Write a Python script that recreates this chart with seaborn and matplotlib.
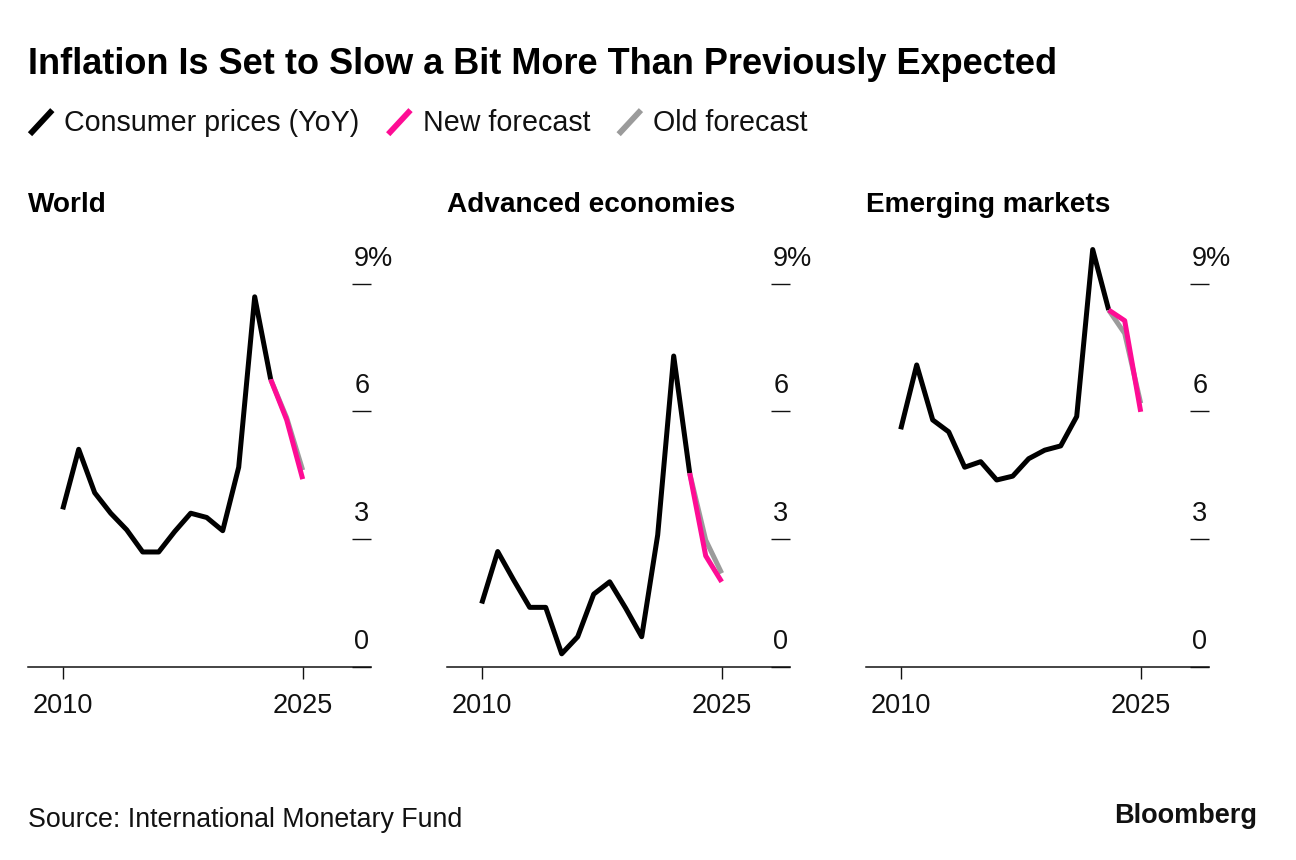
import pandas as pd
import seaborn as sns
import matplotlib
matplotlib.use("Agg")
from matplotlib import pyplot as plt
from matplotlib import transforms
from matplotlib.lines import Line2D
from matplotlib.legend_handler import HandlerBase

# values (% YoY)
actual_years = list(range(2010, 2024))
forecast_years = [2023, 2024, 2025]

world_actual = [3.70, 5.11, 4.09, 3.61, 3.22, 2.70, 2.70, 3.18, 3.61, 3.51, 3.20, 4.69, 8.69, 6.75]
world_new = [6.75, 5.80, 4.41]
world_old = [6.75, 5.85, 4.62]

adv_actual = [1.49, 2.71, 2.04, 1.40, 1.40, 0.31, 0.71, 1.71, 2.00, 1.38, 0.71, 3.10, 7.30, 4.55]
adv_new = [4.55, 2.61, 2.00]
adv_old = [4.55, 2.98, 2.20]

em_actual = [5.58, 7.09, 5.80, 5.52, 4.69, 4.82, 4.39, 4.48, 4.89, 5.09, 5.19, 5.88, 9.80, 8.38]
em_new = [8.38, 8.13, 5.99]
em_old = [8.38, 7.83, 6.19]

panel_names = ["World", "Advanced economies", "Emerging markets"]
series_names = ["Consumer prices (YoY)", "New forecast", "Old forecast"]
ytick_vals = [0, 3, 6, 9]
ytick_labels = ["0", "3", "6", "9%"]
xtick_vals = [2010, 2025]

BLACK = "#000000"
PINK = "#fe0c94"
GREY = "#9b9b9b"
palette = {"Consumer prices (YoY)": BLACK, "New forecast": PINK, "Old forecast": GREY}


def make_frame(actual, new, old):
    parts = [
        pd.DataFrame({"year": actual_years, "value": actual, "series": series_names[0]}),
        pd.DataFrame({"year": forecast_years, "value": new, "series": series_names[1]}),
        pd.DataFrame({"year": forecast_years, "value": old, "series": series_names[2]}),
    ]
    return pd.concat(parts, ignore_index=True)


frames = [
    make_frame(world_actual, world_new, world_old),
    make_frame(adv_actual, adv_new, adv_old),
    make_frame(em_actual, em_new, em_old),
]


class SlashHandler(HandlerBase):
    # legend key drawn as a short diagonal stroke
    def create_artists(self, legend, orig_handle, xdescent, ydescent,
                       width, height, fontsize, trans):
        x0, y0 = -xdescent, -ydescent
        line = Line2D([x0, x0 + width], [y0 - 0.1 * height, y0 + 1.0 * height],
                      color=orig_handle.get_color(), linewidth=4.2,
                      solid_capstyle="butt", transform=trans)
        return [line]


sns.set_theme(style="white")
plt.rcParams["font.family"] = ["Liberation Sans", "DejaVu Sans"]
plt.rcParams["lines.solid_capstyle"] = "butt"

W, H = 1296, 860
fig = plt.figure(figsize=(W / 100, H / 100), dpi=100)
fig.patch.set_facecolor("white")

lefts = [28, 447, 866]
ax_w, ax_bottom, ax_top = 343, 667, 240
px_per_unit = 42.6
tick_fs = 19.5

for i, (df, name) in enumerate(zip(frames, panel_names)):
    ax = fig.add_axes([lefts[i] / W, (H - ax_bottom) / H, ax_w / W, (ax_bottom - ax_top) / H])
    sns.lineplot(data=df, x="year", y="value", hue="series",
                 hue_order=["Old forecast", "Consumer prices (YoY)", "New forecast"],
                 palette=palette, linewidth=3.6, errorbar=None, legend=False, ax=ax)
    ax.set_xlim(2010 - 34.7 / 16, 2025 + 68.3 / 16)
    ax.set_ylim(0, (ax_bottom - ax_top) / px_per_unit)
    ax.set_xlabel("")
    ax.set_ylabel("")
    for s in ["top", "left", "right"]:
        ax.spines[s].set_visible(False)
    ax.spines["bottom"].set_color("#111111")
    ax.spines["bottom"].set_linewidth(1.1)
    ax.set_facecolor("white")

    ax.set_xticks(xtick_vals)
    ax.set_xticklabels([str(v) for v in xtick_vals])
    ax.tick_params(axis="x", direction="out", length=8.5, width=1.0, color="#111111",
                   labelsize=tick_fs, labelcolor="#111111", pad=10, bottom=True)
    ax.yaxis.tick_right()
    ax.set_yticks(ytick_vals)
    ax.tick_params(axis="y", direction="in", length=13.5, width=1.0, color="#111111",
                   labelright=False, labelleft=False)

    lab_trans = transforms.offset_copy(
        transforms.blended_transform_factory(ax.transAxes, ax.transData),
        fig=fig, x=0, y=18, units="dots")
    for v, lab in zip(ytick_vals, ytick_labels):
        ax.text(0.951, v, lab, transform=lab_trans, ha="left", va="baseline",
                fontsize=tick_fs, color="#111111")

    fig.text(lefts[i] / W, 1 - 212 / H, name, ha="left", va="baseline",
             fontsize=20.2, fontweight="bold", color="black")

fig.text(28 / W, 1 - 74 / H, "Inflation Is Set to Slow a Bit More Than Previously Expected",
         ha="left", va="baseline", fontsize=26, fontweight="bold", color="black")

handles = [Line2D([], [], color=palette[s]) for s in series_names]
fig.legend(handles, series_names, loc="upper left", bbox_to_anchor=(30 / W, 1 - 109 / H),
           ncol=3, frameon=False, fontsize=20.6, handler_map={Line2D: SlashHandler()},
           handlelength=0.78, handleheight=0.8, handletextpad=0.42, columnspacing=1.0,
           borderpad=0, borderaxespad=0, labelcolor="#111111")

fig.text(28 / W, 1 - 827 / H, "Source: International Monetary Fund", ha="left",
         va="baseline", fontsize=19.3, color="#111111")
fig.text(1257 / W, 1 - 823 / H, "Bloomberg", ha="right", va="baseline",
         fontsize=19.5, fontweight="bold", color="#111111")

fig.savefig("out.png", dpi=100, facecolor="white")
